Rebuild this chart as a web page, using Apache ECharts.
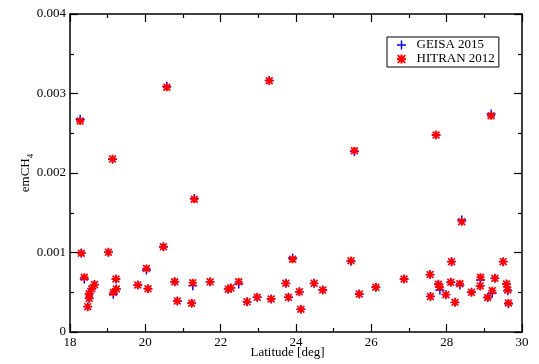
<!DOCTYPE html>
<html>
<head>
<meta charset="utf-8">
<script src="https://cdn.jsdelivr.net/npm/echarts@6/dist/echarts.min.js"></script>
<style>
  html, body { margin: 0; padding: 0; background: #fff; }
  #chart { width: 539px; height: 364px; }
</style>
</head>
<body>
<div id="chart"></div>
<script>
// Latitude of each retrieval (deg)
const latitude = [
  18.27, 18.30, 18.38, 18.47, 18.51, 18.51, 18.58, 18.65, 19.02, 19.13,
  19.15, 19.22, 19.23, 19.80, 20.03, 20.07, 20.48, 20.57, 20.78, 20.85,
  21.23, 21.26, 21.30, 21.72, 22.20, 22.27, 22.48, 22.70, 22.97, 23.29,
  23.34, 23.73, 23.80, 23.91, 24.09, 24.13, 24.48, 24.71, 25.46, 25.55,
  25.68, 26.12, 26.87, 27.56, 27.57, 27.72, 27.78, 27.82, 27.98, 28.11,
  28.13, 28.22, 28.35, 28.40, 28.66, 28.89, 28.90, 29.09, 29.21, 29.18,
  29.28, 29.50, 29.59, 29.62, 29.64
];

// emCH4 with the GEISA 2015 line list
const geisa2015 = [
  0.002675, 0.000995, 0.000667, 0.000319, 0.000424, 0.000482, 0.000543, 0.000596, 0.001002, 0.002172,
  0.000475, 0.000667, 0.000541, 0.000591, 0.000780, 0.000543, 0.001073, 0.003090, 0.000633, 0.000390,
  0.000363, 0.000583, 0.001680, 0.000631, 0.000539, 0.000555, 0.000605, 0.000379, 0.000436, 0.003165,
  0.000415, 0.000612, 0.000436, 0.000930, 0.000505, 0.000287, 0.000612, 0.000528, 0.000890, 0.002270,
  0.000478, 0.000562, 0.000667, 0.000722, 0.000448, 0.002478, 0.000600, 0.000528, 0.000470, 0.000625,
  0.000885, 0.000373, 0.000590, 0.001410, 0.000499, 0.000580, 0.000655, 0.000434, 0.000490, 0.002742,
  0.000675, 0.000885, 0.000604, 0.000520, 0.000355
];

// emCH4 with the HITRAN 2012 line list
const hitran2012 = [
  0.002655, 0.000990, 0.000688, 0.000319, 0.000424, 0.000482, 0.000543, 0.000596, 0.001002, 0.002176,
  0.000497, 0.000667, 0.000541, 0.000591, 0.000800, 0.000543, 0.001073, 0.003078, 0.000633, 0.000390,
  0.000363, 0.000618, 0.001669, 0.000631, 0.000539, 0.000555, 0.000631, 0.000379, 0.000436, 0.003161,
  0.000415, 0.000612, 0.000436, 0.000916, 0.000505, 0.000287, 0.000612, 0.000528, 0.000897, 0.002280,
  0.000478, 0.000562, 0.000667, 0.000722, 0.000448, 0.002478, 0.000600, 0.000566, 0.000470, 0.000625,
  0.000885, 0.000373, 0.000606, 0.001388, 0.000499, 0.000580, 0.000688, 0.000434, 0.000520, 0.002720,
  0.000675, 0.000885, 0.000604, 0.000528, 0.000365
];

const seriesNames = ['GEISA 2015', 'HITRAN 2012'];

// Marker shapes: thin plus, and an asterisk made of a plus and an x
const plusPath = 'path://M4.2,0 H5.8 V4.2 H10 V5.8 H5.8 V10 H4.2 V5.8 H0 V4.2 H4.2 Z';
const starPath = 'path://M3.8,0 H6.2 V3.8 H10 V6.2 H6.2 V10 H3.8 V6.2 H0 V3.8 H3.8 Z ' +
  'M1.5,0 L10,8.5 L8.5,10 L0,1.5 Z M8.5,0 L10,1.5 L1.5,10 L0,8.5 Z';

const serif = 'Liberation Serif';

function pairs(ys) {
  return latitude.map((x, i) => [x, ys[i]]);
}

const chart = echarts.init(document.getElementById('chart'), null, { renderer: 'canvas' });

const frameAxisLine = { show: true, onZero: false, lineStyle: { color: '#000', width: 1.5 } };
const majorTick = { show: true, inside: true, length: 8, lineStyle: { color: '#000', width: 1.2 } };
const minorTick = { show: true, splitNumber: 2, length: 4, lineStyle: { color: '#000', width: 1.2 } };

chart.setOption({
  animation: false,
  backgroundColor: '#fff',
  grid: { left: 70, right: 17, top: 14, bottom: 32, containLabel: false, outerBoundsMode: 'none' },
  legend: {
    orient: 'vertical',
    left: 387,
    top: 37,
    padding: [1, 4, 1, 10],
    itemGap: 0,
    itemWidth: 20,
    itemHeight: 9,
    borderColor: '#000',
    borderWidth: 1,
    borderRadius: 0,
    backgroundColor: '#fff',
    textStyle: { fontFamily: serif, fontSize: 13, color: '#000', lineHeight: 14 },
    data: [
      { name: seriesNames[0], icon: plusPath },
      { name: seriesNames[1], icon: starPath }
    ]
  },
  xAxis: [
    {
      type: 'value', min: 18, max: 30, interval: 2,
      axisLine: frameAxisLine, axisTick: majorTick, minorTick: minorTick,
      splitLine: { show: false },
      axisLabel: { fontFamily: serif, fontSize: 13, color: '#000', margin: 4 },
      name: 'Latitude [deg]', nameLocation: 'middle', nameGap: 14, nameMoveOverlap: false,
      nameTextStyle: { fontFamily: serif, fontSize: 13, color: '#000', padding: [0, 17, 0, 0] }
    },
    {
      type: 'value', position: 'top', min: 18, max: 30, interval: 2,
      axisLine: frameAxisLine, axisTick: majorTick, minorTick: minorTick,
      splitLine: { show: false }, axisLabel: { show: false }
    }
  ],
  yAxis: [
    {
      type: 'value', min: 0, max: 0.004, interval: 0.001,
      axisLine: frameAxisLine, axisTick: majorTick, minorTick: minorTick,
      splitLine: { show: false },
      axisLabel: { fontFamily: serif, fontSize: 13, color: '#000', margin: 4 },
      name: '{m|emCH}{s|4}', nameLocation: 'middle', nameGap: 35, nameRotate: 90,
      nameMoveOverlap: false,
      nameTextStyle: {
        fontFamily: serif, color: '#000',
        rich: {
          m: { fontFamily: serif, fontSize: 13, color: '#000', lineHeight: 18, verticalAlign: 'top', padding: [2, 0, 0, 0] },
          s: { fontFamily: serif, fontSize: 9, color: '#000', lineHeight: 18, verticalAlign: 'bottom' }
        }
      }
    },
    {
      type: 'value', position: 'right', min: 0, max: 0.004, interval: 0.001,
      axisLine: frameAxisLine, axisTick: majorTick, minorTick: minorTick,
      splitLine: { show: false }, axisLabel: { show: false }
    }
  ],
  series: [
    {
      name: seriesNames[0], type: 'scatter', xAxisIndex: 0, yAxisIndex: 0,
      symbol: plusPath, symbolSize: 9,
      itemStyle: { color: '#0000ff', opacity: 1 },
      data: pairs(geisa2015), z: 2
    },
    {
      name: seriesNames[1], type: 'scatter', xAxisIndex: 0, yAxisIndex: 0,
      symbol: starPath, symbolSize: 8,
      itemStyle: { color: '#ff0000', opacity: 1 },
      data: pairs(hitran2012), z: 3
    }
  ]
});
</script>
</body>
</html>
